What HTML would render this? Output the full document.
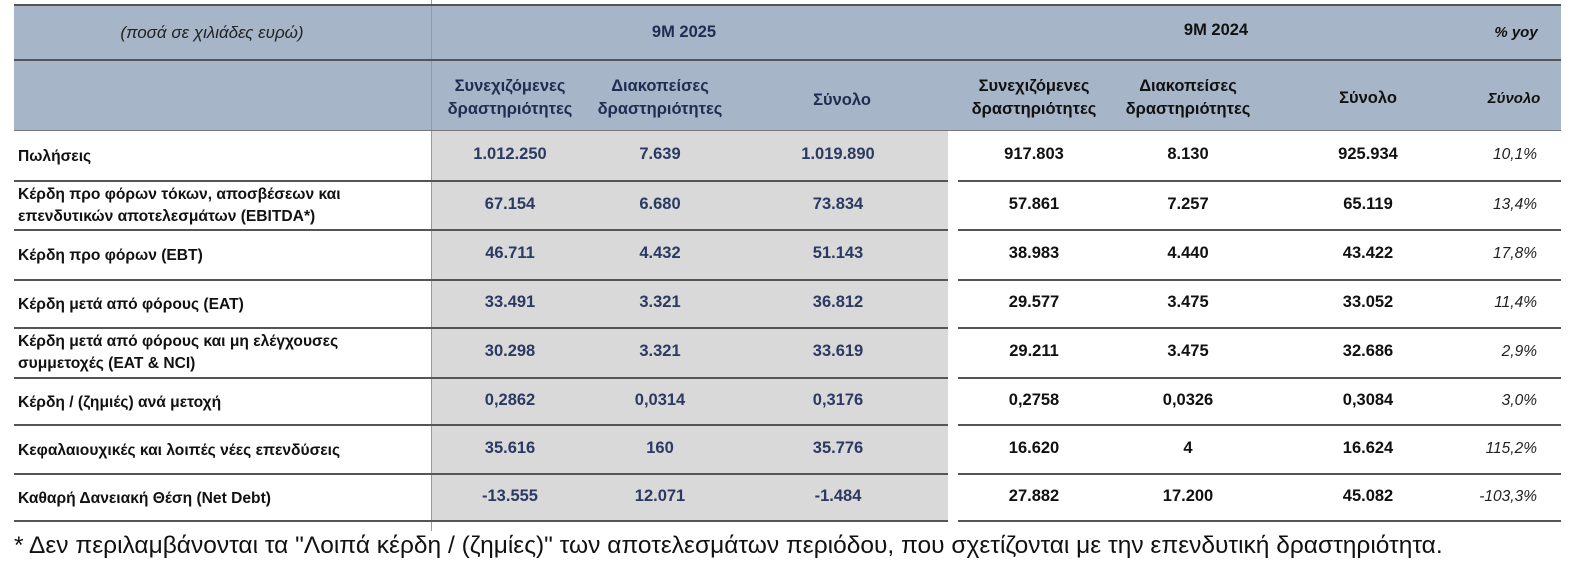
<!DOCTYPE html>
<html><head><meta charset="utf-8">
<style>
body{margin:0;width:1591px;height:573px;background:#fff;position:relative;overflow:hidden;font-family:"Liberation Sans","DejaVu Sans",sans-serif;}
.abs{position:absolute;}
.hdr{left:14px;top:5px;width:1547px;height:126px;background:#a6b5c7;}
.gray{left:432px;top:131px;width:516px;height:390px;background:#d9d9d9;}
.hl{position:absolute;height:2px;background:#555;}
.t{position:absolute;font-weight:bold;font-size:16.5px;color:#111;white-space:nowrap;}
.c{transform:translateX(-50%);text-align:center;}
.b{color:#2b3a63;}
.h{color:#1f2d52;line-height:23px;}
</style></head><body>
<div class="abs hdr"></div>
<div class="abs gray"></div>
<div class="abs" style="left:431px;top:0;width:1px;height:531px;background:#999"></div>
<div class="hl" style="left:14px;top:4px;width:1547px;"></div>
<div class="hl" style="left:14px;top:59px;width:1547px;"></div>
<div class="hl" style="left:14px;top:130px;width:1547px;background:#777;height:1px"></div>
<!-- header -->
<div class="t c" style="left:212px;top:23px;font-style:italic;font-weight:normal;color:#222;font-size:17px">(ποσά σε χιλιάδες ευρώ)</div>
<div class="t c h" style="left:684px;top:21px">9M 2025</div>
<div class="t c" style="left:1216px;top:21px;color:#111">9M 2024</div>
<div class="t c" style="left:1516px;top:24px;font-style:italic;font-size:15px">% yoy</div>
<div class="t c h" style="left:510px;top:75px">Συνεχιζόμενες<br>δραστηριότητες</div>
<div class="t c h" style="left:660px;top:75px">Διακοπείσες<br>δραστηριότητες</div>
<div class="t c h" style="left:842px;top:89px">Σύνολο</div>
<div class="t c" style="left:1034px;top:75px;line-height:23px">Συνεχιζόμενες<br>δραστηριότητες</div>
<div class="t c" style="left:1188px;top:75px;line-height:23px">Διακοπείσες<br>δραστηριότητες</div>
<div class="t c" style="left:1368px;top:89px">Σύνολο</div>
<div class="t c" style="left:1514px;top:90px;font-style:italic;font-size:15px">Σύνολο</div>
<div id="lines"></div>
<script>
var ys=[181,230,280,328,378,425,474,521];
var s='';
ys.forEach(function(y){s+='<div class="hl" style="left:14px;top:'+(y-1)+'px;width:418px"></div><div class="hl" style="left:432px;top:'+(y-1)+'px;width:516px"></div><div class="hl" style="left:958px;top:'+(y-1)+'px;width:603px"></div>';});
var rows=[
["Πωλήσεις","1.012.250","7.639","1.019.890","917.803","8.130","925.934","10,1%"],
["Κέρδη προ φόρων τόκων, αποσβέσεων και<br>επενδυτικών αποτελεσμάτων (EBITDA*)","67.154","6.680","73.834","57.861","7.257","65.119","13,4%"],
["Κέρδη προ φόρων (EBT)","46.711","4.432","51.143","38.983","4.440","43.422","17,8%"],
["Κέρδη μετά από φόρους (EAT)","33.491","3.321","36.812","29.577","3.475","33.052","11,4%"],
["Κέρδη μετά από φόρους και μη ελέγχουσες<br>συμμετοχές (EAT &amp; NCI)","30.298","3.321","33.619","29.211","3.475","32.686","2,9%"],
["Κέρδη / (ζημιές) ανά μετοχή","0,2862","0,0314","0,3176","0,2758","0,0326","0,3084","3,0%"],
["Κεφαλαιουχικές και λοιπές νέες επενδύσεις","35.616","160","35.776","16.620","4","16.624","115,2%"],
["Καθαρή Δανειακή Θέση (Net Debt)","-13.555","12.071","-1.484","27.882","17.200","45.082","-103,3%"]];
var xs=[510,660,838,1034,1188,1368];
var tops=[131,181,230,280,328,378,425,474];
rows.forEach(function(r,i){
 var mid=(tops[i]+ys[i])/2;
 var two=r[0].indexOf('<br>')>=0;
 s+='<div class="t" style="left:18px;top:'+(two?mid-22:mid-10)+'px;line-height:22px;font-size:15.6px">'+r[0]+'</div>';
 for(var j=0;j<6;j++){s+='<div class="t c'+(j<3?' b':'')+'" style="left:'+xs[j]+'px;top:'+(mid-11)+'px">'+r[j+1]+'</div>';}
 s+='<div class="t" style="right:54px;top:'+(mid-10)+'px;font-style:italic;font-weight:normal;color:#222;font-size:15.5px">'+r[7]+'</div>';
});
document.getElementById('lines').innerHTML=s;
</script>
<div class="abs" style="left:14px;top:532px;font-size:24.5px;color:#111;white-space:nowrap">* Δεν περιλαμβάνονται τα "Λοιπά κέρδη / (ζημίες)" των αποτελεσμάτων περιόδου, που σχετίζονται με την επενδυτική δραστηριότητα.</div>
</body></html>
